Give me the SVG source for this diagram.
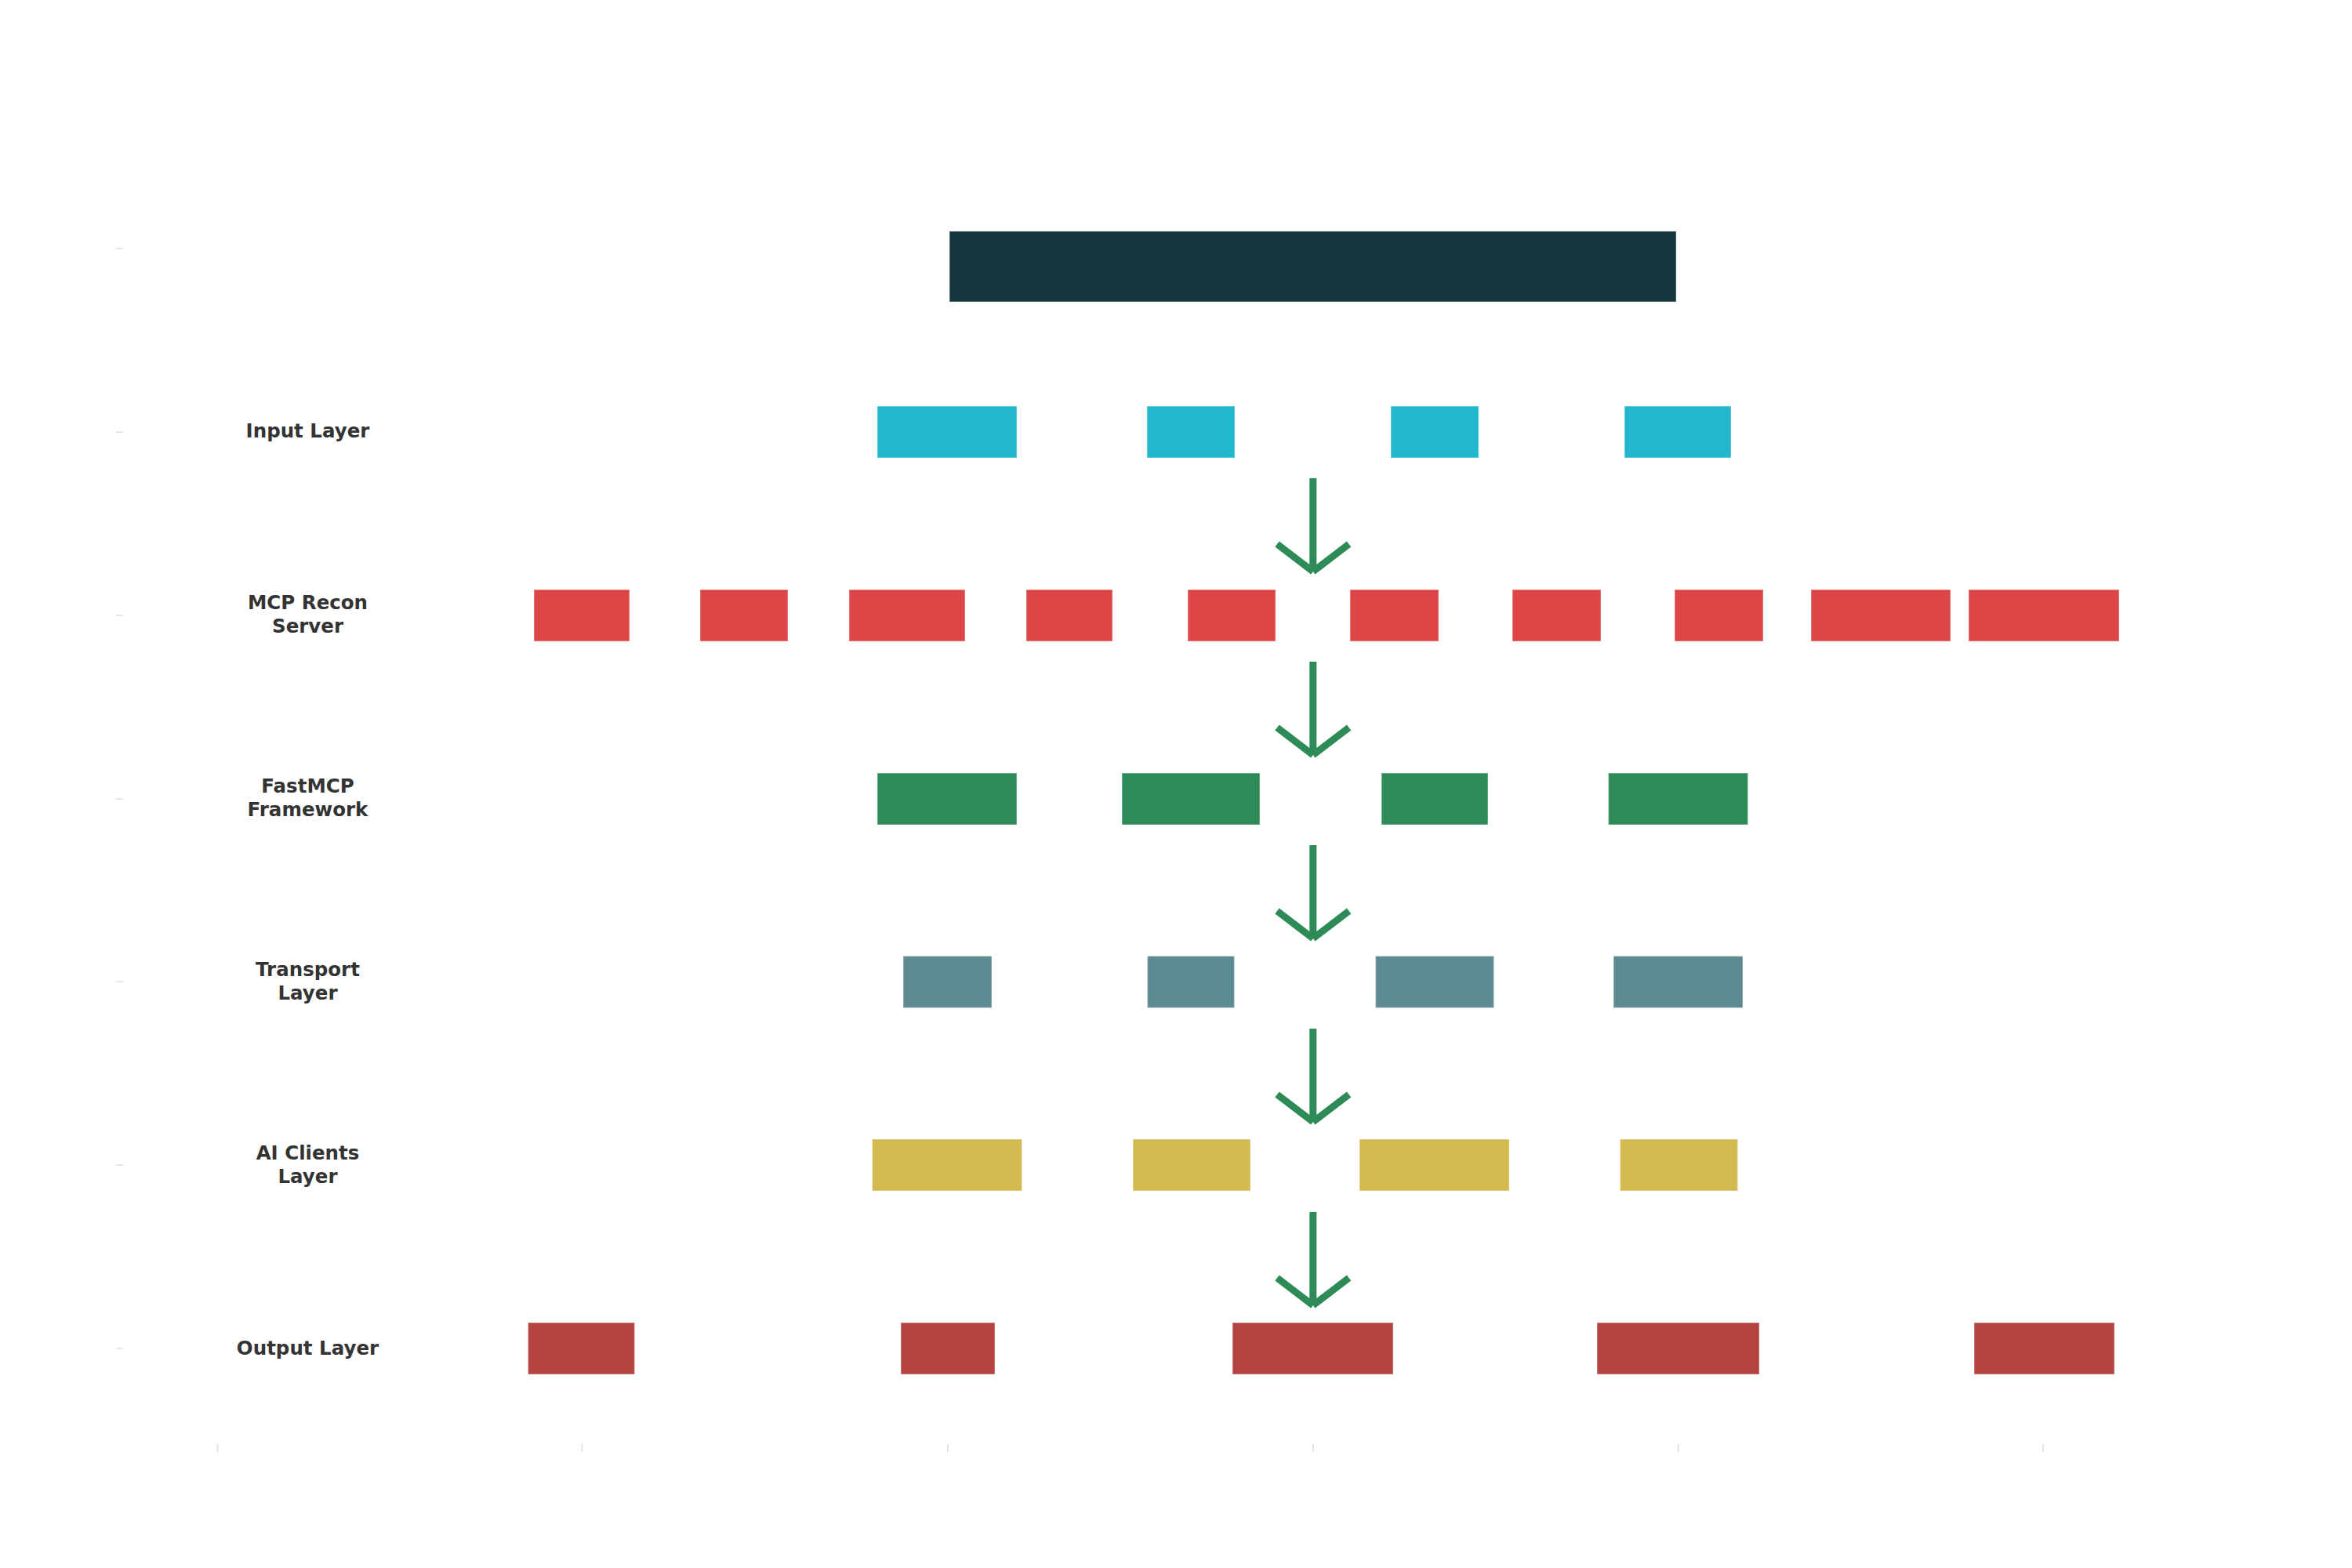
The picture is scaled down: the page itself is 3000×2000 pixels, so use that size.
<svg xmlns="http://www.w3.org/2000/svg" width="3000" height="2000" viewBox="0 0 3000 2000">
<style>
  .bg{fill:#ffffff}
  .node rect{stroke:#ffffff;stroke-opacity:0.35;stroke-width:1.5}
  .title{fill:#15353D}
  .inp{fill:#21B8CE}
  .mcp{fill:#DC4646}
  .fast{fill:#2E8B57}
  .trans{fill:#5C8A90}
  .ai{fill:#D4BA4E}
  .out{fill:#B5423F}
  .lbl{font-family:"DejaVu Sans",Verdana,sans-serif;font-weight:bold;font-size:24.5px;fill:#333333;text-anchor:middle}
  .tick{stroke:#DDDDDD;stroke-width:1.5;fill:none}
  .arrow{stroke:#2E8B57;stroke-width:9;fill:none;stroke-linecap:butt}
</style>
<rect class="bg" x="0" y="0" width="3000" height="2000"/>

<g id="axis-ticks">
  <line class="tick" x1="148" y1="317" x2="157" y2="317"/>
  <line class="tick" x1="148" y1="551" x2="157" y2="551"/>
  <line class="tick" x1="148" y1="785" x2="157" y2="785"/>
  <line class="tick" x1="148" y1="1019" x2="157" y2="1019"/>
  <line class="tick" x1="148" y1="1252" x2="157" y2="1252"/>
  <line class="tick" x1="148" y1="1486" x2="157" y2="1486"/>
  <line class="tick" x1="148" y1="1720" x2="157" y2="1720"/>
  <line class="tick" x1="277.4" y1="1842" x2="277.4" y2="1852"/>
  <line class="tick" x1="742.4" y1="1842" x2="742.4" y2="1852"/>
  <line class="tick" x1="1209" y1="1842" x2="1209" y2="1852"/>
  <line class="tick" x1="1674.8" y1="1842" x2="1674.8" y2="1852"/>
  <line class="tick" x1="2140.6" y1="1842" x2="2140.6" y2="1852"/>
  <line class="tick" x1="2606" y1="1842" x2="2606" y2="1852"/>
</g>

<g id="labels">
  <text class="lbl" x="392.5" y="558">Input Layer</text>
  <text class="lbl" x="392.5" y="776.5">MCP Recon</text>
  <text class="lbl" x="392.5" y="806.5">Server</text>
  <text class="lbl" x="392.5" y="1010.5">FastMCP</text>
  <text class="lbl" x="392.5" y="1040.5">Framework</text>
  <text class="lbl" x="392.5" y="1244.5">Transport</text>
  <text class="lbl" x="392.5" y="1274.5">Layer</text>
  <text class="lbl" x="392.5" y="1478.5">AI Clients</text>
  <text class="lbl" x="392.5" y="1508.5">Layer</text>
  <text class="lbl" x="392.5" y="1728">Output Layer</text>
</g>

<g id="node-title" class="node"><rect class="title" x="1211" y="295" width="927" height="90"/></g>

<g id="row-input">
  <g id="input-1" class="node"><rect class="inp" x="1119" y="518" width="178" height="66"/></g>
  <g id="input-2" class="node"><rect class="inp" x="1463" y="518" width="112" height="66"/></g>
  <g id="input-3" class="node"><rect class="inp" x="1774" y="518" width="112" height="66"/></g>
  <g id="input-4" class="node"><rect class="inp" x="2072" y="518" width="136" height="66"/></g>
</g>

<g id="row-mcp">
  <g id="mcp-1" class="node"><rect class="mcp" x="681" y="752" width="122" height="66"/></g>
  <g id="mcp-2" class="node"><rect class="mcp" x="893" y="752" width="112" height="66"/></g>
  <g id="mcp-3" class="node"><rect class="mcp" x="1083" y="752" width="148" height="66"/></g>
  <g id="mcp-4" class="node"><rect class="mcp" x="1309" y="752" width="110" height="66"/></g>
  <g id="mcp-5" class="node"><rect class="mcp" x="1515" y="752" width="112" height="66"/></g>
  <g id="mcp-6" class="node"><rect class="mcp" x="1722" y="752" width="113" height="66"/></g>
  <g id="mcp-7" class="node"><rect class="mcp" x="1929" y="752" width="113" height="66"/></g>
  <g id="mcp-8" class="node"><rect class="mcp" x="2136" y="752" width="113" height="66"/></g>
  <g id="mcp-9" class="node"><rect class="mcp" x="2310" y="752" width="178" height="66"/></g>
  <g id="mcp-10" class="node"><rect class="mcp" x="2511" y="752" width="192" height="66"/></g>
</g>

<g id="row-fastmcp">
  <g id="fast-1" class="node"><rect class="fast" x="1119" y="986" width="178" height="66"/></g>
  <g id="fast-2" class="node"><rect class="fast" x="1431" y="986" width="176" height="66"/></g>
  <g id="fast-3" class="node"><rect class="fast" x="1762" y="986" width="136" height="66"/></g>
  <g id="fast-4" class="node"><rect class="fast" x="2051.5" y="986" width="178" height="66"/></g>
</g>

<g id="row-transport">
  <g id="trans-1" class="node"><rect class="trans" x="1152" y="1219.5" width="113" height="66"/></g>
  <g id="trans-2" class="node"><rect class="trans" x="1463.5" y="1219.5" width="111" height="66"/></g>
  <g id="trans-3" class="node"><rect class="trans" x="1754.5" y="1219.5" width="151" height="66"/></g>
  <g id="trans-4" class="node"><rect class="trans" x="2058" y="1219.5" width="165" height="66"/></g>
</g>

<g id="row-ai">
  <g id="ai-1" class="node"><rect class="ai" x="1112.5" y="1453" width="191" height="66"/></g>
  <g id="ai-2" class="node"><rect class="ai" x="1445" y="1453" width="150" height="66"/></g>
  <g id="ai-3" class="node"><rect class="ai" x="1734" y="1453" width="191" height="66"/></g>
  <g id="ai-4" class="node"><rect class="ai" x="2066.5" y="1453" width="150" height="66"/></g>
</g>

<g id="row-output">
  <g id="out-1" class="node"><rect class="out" x="673.5" y="1687" width="136" height="66"/></g>
  <g id="out-2" class="node"><rect class="out" x="1149" y="1687" width="120" height="66"/></g>
  <g id="out-3" class="node"><rect class="out" x="1572" y="1687" width="205" height="66"/></g>
  <g id="out-4" class="node"><rect class="out" x="2037" y="1687" width="207" height="66"/></g>
  <g id="out-5" class="node"><rect class="out" x="2518" y="1687" width="179" height="66"/></g>
</g>

<g id="connectors">
  <path class="arrow" d="M1674.8,610 V727 M1629,694 L1674.8,729 M1720.6,694 L1674.8,729"/>
  <path class="arrow" d="M1674.8,844 V961 M1629,928 L1674.8,963 M1720.6,928 L1674.8,963"/>
  <path class="arrow" d="M1674.8,1078 V1195 M1629,1162 L1674.8,1197 M1720.6,1162 L1674.8,1197"/>
  <path class="arrow" d="M1674.8,1312 V1429 M1629,1396 L1674.8,1431 M1720.6,1396 L1674.8,1431"/>
  <path class="arrow" d="M1674.8,1546 V1663 M1629,1630 L1674.8,1665 M1720.6,1630 L1674.8,1665"/>
</g>
</svg>
